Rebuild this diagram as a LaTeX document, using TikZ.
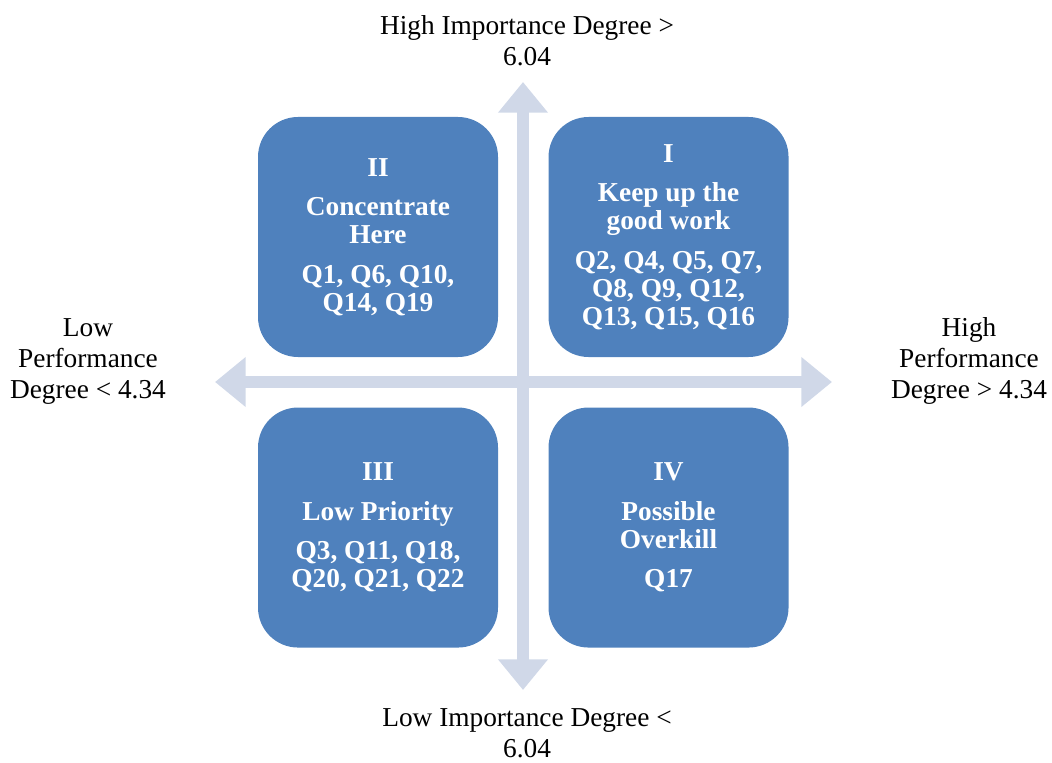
\documentclass[tikz,border=0pt]{standalone}
\usepackage{fontspec}
\setmainfont{Liberation Serif}
\usetikzlibrary{arrows.meta,positioning}

\definecolor{quadblue}{HTML}{4F81BD}
\definecolor{axisgray}{HTML}{D0D8E8}

\begin{document}
\begin{tikzpicture} [
		x=0.75pt, y=-0.75pt,
		quadrant/.style  = { rectangle, fill=quadblue, rounded corners=30pt,
			minimum width=180pt, minimum height=180pt, inner sep=0pt,
			text=white, align=center,
			font=\bfseries\fontsize{20.5}{21}\selectfont },
		axislabel/.style = { align=center, font=\fontsize{20.5}{23.25}\selectfont },
		axisarrow/.style = { draw=axisgray, line width=9pt,
			{Triangle[width=36pt,length=23pt]}-{Triangle[width=36pt,length=23pt]} },
	]
	\useasboundingbox (0,0) rectangle (1052,763);
	% ends of the two axes
	\coordinate (imptop)    at (523,82);
	\coordinate (impbot)    at (523,690);
	\coordinate (perfleft)  at (215,382);
	\coordinate (perfright) at (832,382);
	\path[axisarrow] (imptop) -- (impbot);
	\path[axisarrow] (perfleft) -- (perfright);
	% quadrants
	\node [quadrant] (quadII) at (378,237) {II\\[8.5pt] Concentrate\\Here\\[8.5pt] Q1, Q6, Q10,\\Q14, Q19};
	\node [quadrant, right=37.5pt of quadII] (quadI) {I\\[8.5pt] Keep up the\\good work\\[8.5pt] Q2, Q4, Q5, Q7,\\Q8, Q9, Q12,\\Q13, Q15, Q16};
	\node [quadrant, below=37.5pt of quadII] (quadIII) {III\\[8.5pt] Low Priority\\[8.5pt] Q3, Q11, Q18,\\Q20, Q21, Q22};
	\node [quadrant, below=37.5pt of quadI] (quadIV) {IV\\[8.5pt] Possible\\Overkill\\[8.5pt] Q17};
	% axis labels
	\node [axislabel] (hiimp)  at (527,41)  {High Importance Degree >\\6.04};
	\node [axislabel] (loimp)  at (527,733) {Low Importance Degree <\\6.04};
	\node [axislabel] (loperf) at (88,361)  {Low\\Performance\\Degree < 4.34};
	\node [axislabel] (hiperf) at (969,361) {High\\Performance\\Degree > 4.34};
\end{tikzpicture}
\end{document}
